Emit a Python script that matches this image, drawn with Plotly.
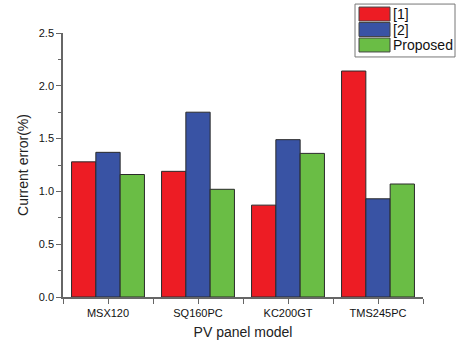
import plotly.graph_objects as go

categories = ["MSX120", "SQ160PC", "KC200GT", "TMS245PC"]
series_names = ["[1]", "[2]", "Proposed"]
ref1 = [1.28, 1.19, 0.87, 2.14]
ref2 = [1.37, 1.75, 1.49, 0.93]
proposed = [1.16, 1.02, 1.36, 1.07]
colors = ["#ED1C24", "#3953A4", "#6ABD45"]

FONT = "Arial, Liberation Sans, sans-serif"
xpos = list(range(len(categories)))

fig = go.Figure()
for name, vals, c in zip(series_names, [ref1, ref2, proposed], colors):
    fig.add_trace(go.Bar(x=xpos, y=vals, name=name, marker=dict(color=c, line=dict(color="#2a2a2a", width=1)),
                         showlegend=False))

# manual legend (box + swatches + labels)
L, R, T, B = 63, 423, 33, 297.5
W, H = R - L, B - T
def px(x): return (x - L) / W
def py(y): return (B - y) / H

fig.add_shape(type="rect", xref="paper", yref="paper", x0=px(355), x1=px(455), y0=py(57), y1=py(4),
              line=dict(color="#777", width=1), fillcolor="white", layer="above")
for i, (name, c) in enumerate(zip(series_names, colors)):
    top = 7 + i * 15.5
    fig.add_shape(type="rect", xref="paper", yref="paper", x0=px(359), x1=px(390), y0=py(top + 14), y1=py(top),
                  line=dict(color="#444", width=1), fillcolor=c, layer="above")
    fig.add_annotation(xref="paper", yref="paper", x=px(391), y=py(top + 7), text=name, showarrow=False,
                       xanchor="left", yanchor="middle", font=dict(family=FONT, size=14, color="#111"))

fig.update_layout(
    width=463, height=345,
    margin=dict(l=L, r=463 - R, t=T, b=345 - B, autoexpand=False),
    paper_bgcolor="white", plot_bgcolor="white",
    barmode="group", bargap=0.19, bargroupgap=0,
    font=dict(family=FONT, color="#222"),
)
fig.update_xaxes(
    automargin=False,
    range=[-0.5, 3.5], tickvals=xpos, ticktext=categories, showgrid=False, zeroline=False,
    showline=True, linecolor="#666", linewidth=1.5, ticks="outside", ticklen=5, tickcolor="#666",
    tickfont=dict(size=11, family=FONT, color="#111"),
    minor=dict(tickvals=[-0.5, 0.5, 1.5, 2.5, 3.5], ticks="outside", ticklen=5, tickcolor="#666"),
    title=dict(text="PV panel model", font=dict(size=14, family=FONT, color="#222"), standoff=9),
)
fig.update_yaxes(
    automargin=False,
    range=[0, 2.5], dtick=0.5, tickformat=".1f", showgrid=False, zeroline=False,
    showline=True, linecolor="#666", linewidth=1.5, ticks="outside", ticklen=5, tickcolor="#666",
    tickfont=dict(size=11, family=FONT, color="#111"),
    minor=dict(dtick=0.25, ticks="outside", ticklen=3, tickcolor="#666"),
    title=dict(text="Current error(%)", font=dict(size=14, family=FONT, color="#222"), standoff=7),
)

fig.write_html("out.html", config={"displayModeBar": False},
               post_script="document.body.style.margin='0';document.body.style.overflow='hidden';")
